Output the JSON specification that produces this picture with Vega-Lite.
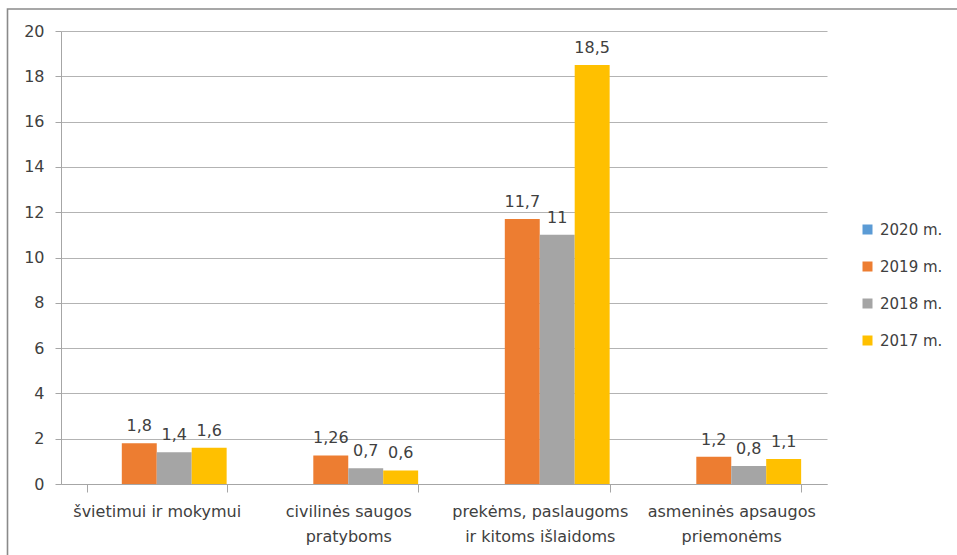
{
  "$schema": "https://vega.github.io/schema/vega-lite/v6.json",
  "width": 766,
  "height": 453,
  "autosize": {"type": "none"},
  "padding": {"left": 61, "top": 31, "right": 130, "bottom": 71},
  "background": "white",
  "config": {
    "locale": {"number": {"decimal": ",", "thousands": " ", "grouping": [3], "currency": ["", " €"]}},
    "view": {"stroke": null},
    "font": "DejaVu Sans",
    "axis": {"labelFont": "DejaVu Sans", "labelColor": "#404040", "labelFontSize": 16, "domainColor": "#a6a6a6", "tickColor": "#a6a6a6", "titleFontSize": 0}
  },
  "data": {
    "values": [
      {"kategorija": "švietimui ir mokymui", "metai": "2019 m.", "mln": 1.8},
      {"kategorija": "švietimui ir mokymui", "metai": "2018 m.", "mln": 1.4},
      {"kategorija": "švietimui ir mokymui", "metai": "2017 m.", "mln": 1.6},
      {"kategorija": "civilinės saugos pratyboms", "metai": "2019 m.", "mln": 1.26},
      {"kategorija": "civilinės saugos pratyboms", "metai": "2018 m.", "mln": 0.7},
      {"kategorija": "civilinės saugos pratyboms", "metai": "2017 m.", "mln": 0.6},
      {"kategorija": "prekėms, paslaugoms ir kitoms išlaidoms", "metai": "2019 m.", "mln": 11.7},
      {"kategorija": "prekėms, paslaugoms ir kitoms išlaidoms", "metai": "2018 m.", "mln": 11},
      {"kategorija": "prekėms, paslaugoms ir kitoms išlaidoms", "metai": "2017 m.", "mln": 18.5},
      {"kategorija": "asmeninės apsaugos priemonėms", "metai": "2019 m.", "mln": 1.2},
      {"kategorija": "asmeninės apsaugos priemonėms", "metai": "2018 m.", "mln": 0.8},
      {"kategorija": "asmeninės apsaugos priemonėms", "metai": "2017 m.", "mln": 1.1}
    ]
  },
  "encoding": {
    "x": {
      "field": "kategorija",
      "type": "nominal",
      "sort": null,
      "scale": {"paddingInner": 0.27, "paddingOuter": 0.135},
      "axis": {
        "title": null,
        "labelAngle": 0,
        "tickBand": "extent",
        "tickSize": 8,
        "labelPadding": 11,
        "labelLineHeight": 25,
        "labelFontSize": 16,
        "labelExpr": "datum.label == 'civilinės saugos pratyboms' ? ['civilinės saugos', 'pratyboms'] : datum.label == 'prekėms, paslaugoms ir kitoms išlaidoms' ? ['prekėms, paslaugoms', 'ir kitoms išlaidoms'] : datum.label == 'asmeninės apsaugos priemonėms' ? ['asmeninės apsaugos', 'priemonėms'] : datum.label"
      }
    },
    "xOffset": {
      "field": "metai",
      "type": "nominal",
      "scale": {"domain": ["2020 m.", "2019 m.", "2018 m.", "2017 m."], "paddingInner": 0, "paddingOuter": 0}
    },
    "y": {
      "field": "mln",
      "type": "quantitative",
      "scale": {"domain": [0, 20], "nice": false},
      "axis": {
        "title": null,
        "values": [0, 2, 4, 6, 8, 10, 12, 14, 16, 18, 20],
        "tickSize": 6,
        "labelPadding": 11,
        "grid": true,
        "gridColor": "#b3b3b3",
        "gridWidth": 1
      }
    }
  },
  "layer": [
    {
      "mark": {"type": "rect", "fill": null, "stroke": "#8a8a8a", "strokeWidth": 1.6, "clip": false},
      "encoding": {
        "x": {"value": -53.5},
        "x2": {"value": 910},
        "y": {"value": -22},
        "y2": {"value": 540},
        "xOffset": null
      },
      "data": {"values": [{}]}
    },
    {
      "mark": {"type": "bar"},
      "encoding": {
        "color": {
          "field": "metai",
          "type": "nominal",
          "scale": {
            "domain": ["2020 m.", "2019 m.", "2018 m.", "2017 m."],
            "range": ["#5b9bd5", "#ed7d31", "#a5a5a5", "#ffc000"]
          },
          "legend": {
            "title": null,
            "orient": "none",
            "legendX": 799,
            "legendY": 191,
            "symbolType": "square",
            "symbolSize": 100,
            "symbolStrokeWidth": 0,
            "labelFont": "DejaVu Sans",
            "labelFontSize": 15,
            "labelColor": "#404040",
            "labelOffset": 5,
            "rowPadding": 21,
            "padding": 0
          }
        }
      }
    },
    {
      "mark": {"type": "text", "baseline": "alphabetic", "dy": -12, "fontSize": 16, "color": "#404040", "font": "DejaVu Sans"},
      "encoding": {
        "text": {"field": "mln", "type": "quantitative", "format": ".2~f"}
      }
    }
  ]
}
